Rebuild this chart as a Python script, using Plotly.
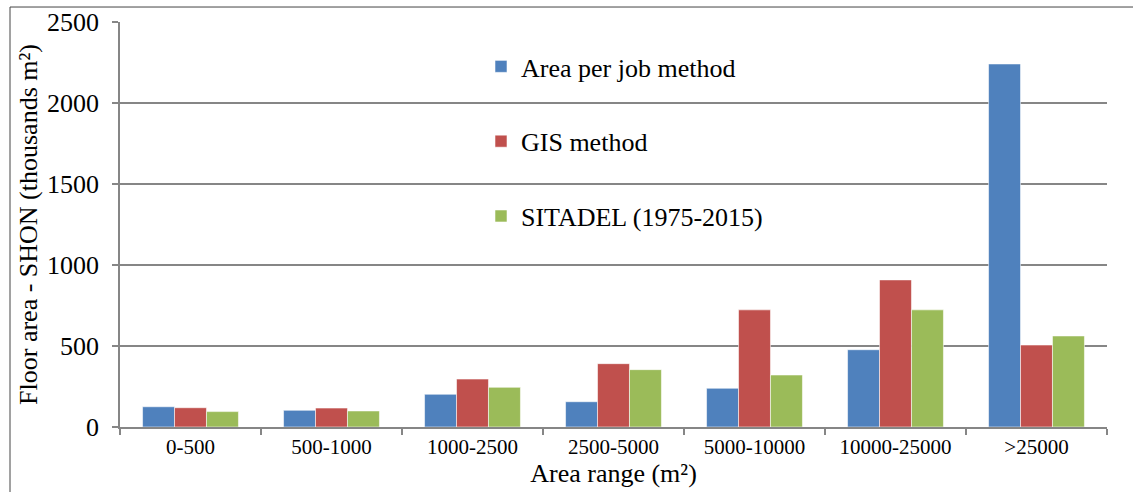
import plotly.graph_objects as go

categories = ["0-500", "500-1000", "1000-2500", "2500-5000", "5000-10000", "10000-25000", ">25000"]
area_per_job = [125, 103, 202, 156, 239, 477, 2241]
gis_method = [119, 117, 296, 391, 723, 908, 506]
sitadel = [95, 99, 245, 354, 321, 723, 562]

series_names = ["Area per job method", "GIS method", "SITADEL (1975-2015)"]
colors = ["#4F81BD", "#C0504D", "#9BBB59"]

FONT = "Liberation Serif"
GRID = "#868686"

fig = go.Figure()
for i, (name, vals, col) in enumerate(zip(series_names, [area_per_job, gis_method, sitadel], colors)):
    fig.add_trace(go.Bar(
        x=categories, y=vals, name=name,
        marker=dict(color=col, line=dict(color="rgba(255,255,255,0.55)", width=1)),
        legendgroup=f"g{i}",
    ))

W, H = 1133, 492
L, R, T, B = 120, 26, 22, 64.5
pw = W - L - R
ph = H - T - B

def px_x(px):
    return (px - L) / pw

def px_y(py):
    return (H - B - py) / ph

fig.update_layout(
    template="none",
    width=W, height=H,
    margin=dict(l=L, r=R, t=T, b=B, autoexpand=False),
    paper_bgcolor="white", plot_bgcolor="white",
    barmode="group", bargap=0.32, bargroupgap=0,
    font=dict(family=FONT, color="black", size=21),
    showlegend=True,
    legend=dict(
        x=px_x(481), y=px_y(43), xanchor="left", yanchor="top",
        bgcolor="rgba(0,0,0,0)", font=dict(family=FONT, size=26, color="black"),
        tracegroupgap=38, traceorder="grouped",
    ),
    xaxis=dict(
        type="category", showgrid=False, showline=True, linecolor=GRID, linewidth=1.5,
        ticks="outside", tickson="boundaries", ticklen=6, tickcolor=GRID, tickwidth=1.5,
        tickfont=dict(family=FONT, size=21, color="black"),
        title=dict(text="Area range (m²)", font=dict(family=FONT, size=26, color="black"), standoff=0),
        automargin=False, fixedrange=True,
    ),
    yaxis=dict(
        range=[0, 2500], tickvals=[0, 500, 1000, 1500, 2000, 2500],
        showgrid=True, gridcolor=GRID, gridwidth=1.5,
        showline=True, linecolor=GRID, linewidth=1.5,
        ticks="outside", ticklen=6, tickcolor=GRID, tickwidth=1.5,
        ticklabelstandoff=8,
        tickfont=dict(family=FONT, size=26, color="black"),
        title=dict(text="Floor area - SHON (thousands m²)", font=dict(family=FONT, size=26, color="black"), standoff=2),
        zeroline=False, automargin=False, fixedrange=True,
    ),
)

# figure frame edges (cropped border of original figure)
fig.add_shape(type="line", xref="paper", yref="paper",
              x0=px_x(10), x1=px_x(1140), y0=px_y(7), y1=px_y(7),
              line=dict(color="#444444", width=1))
fig.add_shape(type="line", xref="paper", yref="paper",
              x0=px_x(10), x1=px_x(10), y0=px_y(7), y1=px_y(500),
              line=dict(color="#444444", width=1))

fig.write_html("out.html", config={"displayModeBar": False},
               post_script="document.body.style.margin='0';document.body.style.overflow='hidden';")
